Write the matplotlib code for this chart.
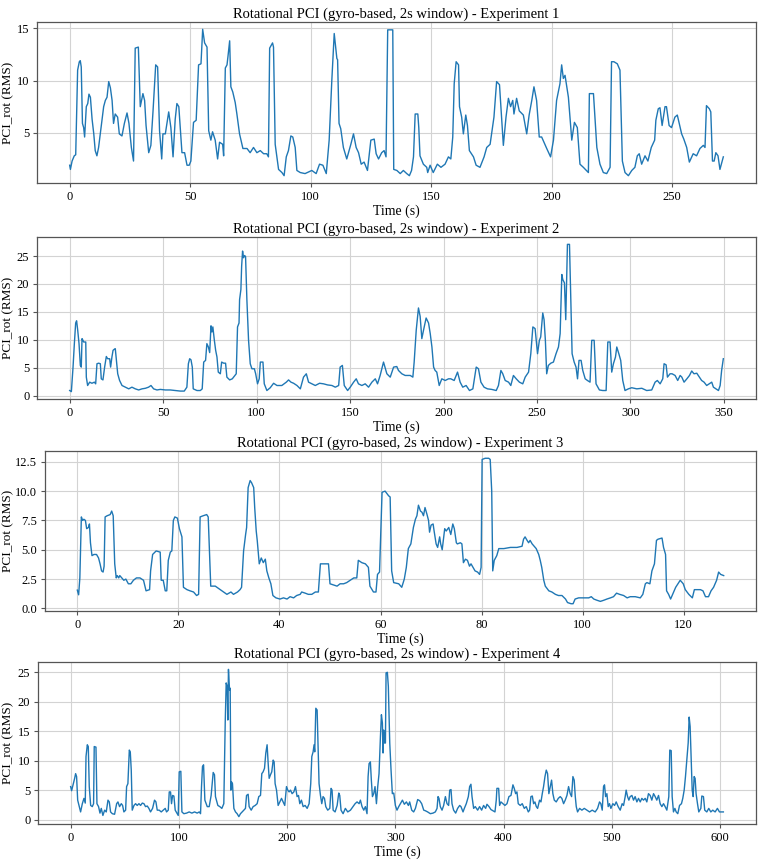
import matplotlib
matplotlib.use("Agg")
import matplotlib.pyplot as plt
from matplotlib.ticker import MultipleLocator, FormatStrFormatter

plt.rcParams['font.family'] = ['Liberation Serif', 'DejaVu Serif']

# ---------------- Experiment 1 ----------------
t1 = [0.0, 0.3, 1.0, 1.9, 2.5, 3.3, 4.0, 4.4, 4.8, 5.3, 5.8, 6.2, 6.9, 7.5, 8.0, 8.6, 9.3, 10.0,
      10.6, 11.3, 12.0, 12.7, 13.4, 14.1, 14.8, 15.5, 16.2, 16.9, 17.6, 18.2, 18.9, 19.9, 20.6,
      21.7, 22.7, 23.8, 24.6, 25.6, 26.5, 27.2, 28.5, 29.3, 30.4, 31.1, 31.7, 32.8, 33.7, 34.6,
      35.7, 36.5, 37.3, 38.2, 38.7, 39.7, 41.1, 42.0, 42.9, 43.8, 44.5, 45.3, 46.6, 47.7, 48.7,
      49.6, 50.3, 51.4, 52.5, 53.5, 54.5, 55.2, 56.0, 57.0, 57.7, 58.6, 59.3, 60.4, 61.4, 62.2,
      63.5, 63.9, 64.6, 65.3, 65.7, 66.4, 66.9, 67.7, 68.7, 69.4, 70.5, 71.9, 73.6, 74.9, 76.3,
      77.7, 79.1, 80.5, 81.8, 82.5, 83.0, 84.2, 84.6, 85.3, 86.0, 86.7, 88.1, 89.0, 89.9, 90.8,
      91.8, 92.6, 93.6, 94.3, 95.7, 97.7, 100.5, 102.3, 103.7, 105.1, 106.5, 107.7, 108.8, 109.8,
      110.9, 111.2, 111.8, 112.5, 113.6, 115.0, 116.7, 117.8, 118.9, 119.9, 121.0, 122.2, 123.6,
      125.0, 126.4, 127.2, 128.2, 129.5, 130.5, 131.3, 132.0, 134.1, 134.5, 135.8, 137.2, 138.5,
      139.9, 141.0, 141.9, 142.7, 143.4, 144.5, 144.9, 145.4, 146.8, 148.2, 148.6, 149.6, 150.9,
      152.6, 154.1, 155.8, 157.2, 158.2, 159.0, 159.6, 160.4, 161.4, 161.8, 162.7, 163.4, 164.4,
      165.1, 165.9, 167.6, 168.7, 170.3, 172.0, 173.1, 174.5, 176.1, 177.2, 178.4, 180.0, 181.1,
      182.1, 183.0, 183.9, 184.4, 185.5, 186.6, 188.3, 189.7, 190.7, 191.8, 192.7, 193.8, 194.9,
      195.9, 198.0, 199.6, 200.8, 202.1, 203.5, 204.2, 204.9, 205.6, 207.0, 208.4, 209.5, 210.7,
      211.8, 213.2, 215.3, 215.7, 217.4, 218.8, 220.1, 221.5, 222.9, 224.3, 224.9, 225.9, 227.3,
      228.4, 229.4, 230.5, 231.9, 233.3, 234.6, 235.6, 236.4, 237.4, 238.8, 240.0, 241.4, 242.8,
      243.3, 244.3, 245.0, 245.9, 247.1, 247.7, 248.8, 249.8, 251.2, 252.2, 254.0, 254.9, 256.1,
      257.2, 258.8, 260.2, 261.6, 263.0, 263.7, 264.3, 265.5, 266.1, 266.8, 267.5, 268.2, 269.1,
      269.9, 271.3]
v1 = [1.9, 1.5, 2.3, 2.8, 2.9, 11.0, 11.8, 11.9, 11.3, 5.9, 5.5, 4.6, 7.5, 7.8, 8.7, 8.4, 6.3, 4.9,
      3.3, 2.8, 3.6, 4.9, 6.2, 7.5, 8.1, 8.4, 9.9, 9.3, 8.1, 5.9, 6.8, 6.5, 4.9,
      4.7, 5.9, 6.9, 5.9, 3.6, 2.3, 13.1, 13.2, 7.5, 8.75, 8.1, 5.7, 3.1, 3.8, 7.1,
      11.5, 11.3, 5.2, 2.5, 4.9, 4.9, 7.0, 5.5, 2.7, 6.3, 7.8, 7.5, 3.1, 3.1, 1.9,
      1.9, 2.3, 6.0, 6.2, 11.5, 11.6, 14.9, 13.6, 13.2, 5.2, 4.3, 5.1, 4.3, 2.5, 4.1,
      3.9, 2.8, 11.2, 11.5, 12.3, 13.8, 9.4, 8.9, 7.9, 6.8, 4.9, 3.5, 3.5, 3.1, 3.6,
      3.1, 3.3, 3.0, 3.0, 2.7, 13.1, 13.6, 13.2, 3.9, 2.7, 1.5, 1.2, 0.9, 2.7, 3.3,
      4.7, 4.6, 3.6, 1.4, 1.2, 1.1, 1.4, 1.1, 2.0, 1.9, 1.1, 4.3, 10.0, 14.5,
      12.1, 12.0, 5.9, 5.4, 3.6, 2.5, 3.9, 4.9, 3.6, 3.1, 2.0, 2.2, 1.4,
      4.3, 4.4, 3.0, 2.5, 3.1, 3.3, 2.7, 14.85, 14.85, 1.5, 1.4, 1.1, 1.4,
      1.1, 0.9, 1.4, 2.7, 6.8, 6.8, 5.5, 2.8, 2.0, 1.7, 1.2, 1.9, 1.2,
      2.0, 1.7, 2.0, 2.7, 2.5, 4.6, 9.7, 11.8, 11.5, 7.5, 6.5, 4.9, 6.7,
      5.7, 3.3, 2.7, 1.9, 1.7, 2.7, 3.6, 3.9, 6.5, 9.9, 9.6, 3.8, 6.5,
      8.3, 7.5, 8.1, 6.8, 8.3, 7.1, 6.7, 4.9, 6.7, 8.1, 9.4, 8.1, 4.6,
      4.6, 3.5, 2.7, 4.3, 8.1, 9.7, 11.5, 10.2, 10.5, 8.4, 4.3, 6.0, 5.5,
      2.0, 1.7, 1.2, 8.75, 8.75, 3.6, 2.0, 1.2, 1.1, 1.7, 11.8, 11.8, 11.6,
      11.0, 2.3, 1.2, 0.9, 1.4, 1.7, 2.8, 3.0, 2.0, 2.8, 2.3, 3.6, 4.3,
      6.2, 7.3, 7.4, 5.7, 7.5, 7.5, 5.7, 5.5, 6.5, 6.7, 4.9, 4.4, 3.6,
      2.2, 3.0, 2.8, 3.5, 3.8, 3.6, 7.6, 7.3, 7.0, 2.3, 2.3, 3.1, 2.8,
      1.5, 2.7]

# ---------------- Experiment 2 ----------------
t2 = [0.0, 0.9, 1.8, 2.5, 3.2, 3.7, 4.3, 5.0, 5.7, 6.2, 6.6, 7.1, 7.5, 8.6, 8.9, 9.6, 10.7, 11.9,
      13.2, 13.9, 14.6, 15.5, 16.4, 16.9, 17.8, 18.7, 19.6, 20.3, 21.4, 21.9, 22.6, 23.2, 23.9,
      24.4, 25.0, 25.7, 26.7, 28.0, 29.8, 31.6, 33.3, 35.1, 36.9, 38.7, 40.5, 42.2, 43.5, 44.9,
      46.7, 48.5, 51.2, 53.8, 56.5, 59.2, 61.3, 62.7, 63.5, 64.2, 64.9, 65.6, 66.1, 68.1, 69.9,
      70.9, 71.7, 72.7, 73.4, 74.2, 74.9, 75.6, 76.1, 76.6, 77.4, 78.1, 78.8, 79.5, 80.6, 81.3,
      82.4, 83.4, 84.1, 85.6, 87.0, 88.4, 89.1, 89.8, 90.6, 90.9, 91.6, 92.0, 92.5, 93.0, 93.6,
      94.1, 94.8, 95.7, 96.6, 97.5, 98.8, 99.5, 100.5, 101.4, 102.0, 103.4, 104.1, 105.5, 107.3,
      109.1, 110.9, 113.5, 115.9, 117.1, 118.4, 119.8, 121.6, 123.4, 125.1, 126.6, 127.8, 129.6,
      131.4, 133.7, 135.8, 138.0, 140.3, 142.1, 143.9, 144.7, 145.9, 146.9, 148.7, 150.1, 151.9,
      153.3, 154.5, 156.3, 158.1, 159.9, 161.7, 163.5, 164.7, 166.1, 167.9, 169.7, 171.5, 173.3,
      175.0, 175.9, 177.7, 179.5, 182.2, 183.6, 184.3, 185.4, 186.6, 187.5, 188.4, 189.3, 190.7,
      192.0, 192.9, 193.8, 194.7, 195.5, 196.4, 197.7, 199.1, 200.9, 202.7, 203.9, 205.7, 207.5,
      208.9, 210.3, 212.1, 213.9, 215.7, 217.5, 218.7, 220.0, 221.7, 223.5, 225.8, 228.2, 229.4,
      230.7, 231.7, 233.0, 234.8, 236.0, 237.4, 238.9, 240.6, 242.4, 243.7, 245.5, 246.7, 247.8,
      249.0, 250.3, 251.3, 252.0, 253.1, 253.8, 254.5, 255.2, 256.1, 257.4, 258.8, 260.2, 261.5,
      262.4, 263.3, 263.8, 264.7, 265.4, 266.3, 267.4, 268.1, 268.8, 269.9, 270.9, 271.7, 272.5,
      273.6, 274.5, 275.8, 277.0, 278.4, 279.3, 280.6, 281.6, 283.4, 285.2, 287.0, 287.9, 289.1,
      290.0, 290.9, 292.0, 292.7, 293.8, 294.8, 295.9, 297.1, 298.9, 300.7, 303.4, 306.1, 308.7,
      311.4, 313.2, 314.4, 315.9, 317.3, 318.0, 319.1, 319.8, 321.2, 322.3, 323.9, 325.3, 326.6,
      327.5, 328.7, 330.2, 331.6, 332.8, 334.0, 335.5, 336.9, 338.1, 339.4, 340.8, 342.6, 343.5,
      344.4, 345.8, 347.1, 348.0, 348.8, 349.7]
v2 = [0.9, 0.7, 5.1, 9.3, 13.0, 13.4, 11.7, 9.3, 5.4, 5.1, 10.2, 9.9, 9.6, 9.6, 3.3, 1.8, 2.4, 2.2,
      2.4, 2.1, 5.7, 5.8, 5.7, 3.0, 2.8, 5.1, 7.0, 6.6, 6.6, 5.1, 6.9, 8.1, 8.3,
      8.4, 6.3, 3.9, 2.7, 1.8, 1.5, 1.2, 1.5, 1.2, 1.0, 1.2, 1.3, 1.5, 1.8, 1.2,
      1.0, 1.1, 1.0, 1.0, 0.9, 0.8, 0.8, 1.5, 5.7, 6.6, 6.4, 5.1, 1.2, 0.9, 0.9,
      1.2, 6.0, 6.3, 9.3, 8.7, 7.7, 12.5, 11.4, 12.3, 9.9, 8.1, 6.9, 4.2, 3.9, 6.0,
      5.8, 5.8, 3.3, 2.8, 3.0, 3.6, 3.9, 12.3, 13.0, 17.2, 19.0, 23.2, 25.9, 24.7, 25.1,
      24.9, 17.2, 9.9, 5.7, 4.8, 4.8, 3.9, 2.1, 3.0, 6.0, 6.0, 2.1, 0.9, 1.4,
      2.2, 1.8, 1.8, 2.4, 2.8, 2.4, 2.2, 1.8, 1.2, 3.3, 3.9, 2.4, 2.1,
      1.8, 2.2, 2.1, 1.9, 1.8, 1.5, 1.8, 5.1, 5.4, 1.8, 0.9, 1.5, 2.4,
      3.0, 2.1, 1.8, 2.1, 1.5, 2.4, 3.0, 2.1, 3.6, 6.0, 3.9, 3.3, 5.1,
      5.2, 4.5, 3.9, 3.6, 3.6, 3.3, 6.0, 11.7, 15.7, 14.2, 10.2, 11.7, 13.9,
      13.0, 11.1, 8.7, 5.1, 4.5, 4.2, 1.8, 3.0, 2.7, 3.0, 3.0, 2.7, 4.2,
      2.4, 1.5, 1.8, 0.9, 1.2, 5.1, 4.8, 2.4, 1.5, 1.2, 1.1, 0.9, 1.8,
      4.5, 3.9, 2.7, 2.4, 1.8, 3.6, 3.0, 2.4, 2.1, 3.3, 4.2, 7.5, 12.3,
      12.0, 7.5, 9.9, 10.5, 14.8, 13.6, 9.9, 3.9, 5.4, 5.8, 6.0, 7.5, 8.7,
      11.1, 21.7, 20.8, 20.2, 13.6, 27.1, 27.1, 17.2, 7.5, 6.0, 5.1, 3.0, 6.3,
      6.3, 4.5, 3.0, 2.7, 2.4, 9.9, 9.9, 2.1, 1.0, 0.9, 0.9, 9.6, 9.6,
      4.2, 5.7, 6.9, 8.7, 7.5, 6.3, 2.7, 0.9, 1.2, 1.4, 1.2, 1.3, 0.9,
      1.0, 2.4, 2.7, 2.1, 3.0, 5.7, 5.5, 3.3, 3.9, 3.9, 3.6, 2.7, 3.6,
      3.3, 2.4, 3.0, 3.6, 4.4, 3.9, 4.0, 3.3, 2.7, 2.4, 1.8, 2.2, 2.4,
      1.5, 1.2, 0.9, 1.8, 4.5, 6.6]

# ---------------- Experiment 3 ----------------
t3 = [0.0, 0.26, 0.5, 0.8, 1.05, 1.3, 1.6, 1.85, 2.2, 2.4, 2.6, 2.9, 3.3, 3.8, 4.2, 4.5, 4.8, 5.1,
      5.3, 5.5, 5.9, 6.5, 6.8, 7.1, 7.4, 7.7, 7.9, 8.2, 8.4, 8.8, 9.2, 9.6, 10.1, 10.6, 11.1,
      11.7, 12.4, 13.1, 13.6, 14.3, 14.5, 14.9, 15.6, 16.4, 16.6, 17.0, 17.4, 17.7, 18.0, 18.4,
      18.7, 19.0, 19.3, 19.8, 20.2, 20.7, 21.0, 21.7, 22.3, 23.0, 23.6, 24.0, 24.3, 24.9, 25.6,
      25.9, 26.4, 27.3, 28.3, 29.0, 29.6, 30.4, 30.9, 31.7, 32.2, 32.5, 32.9, 33.3, 33.5, 33.8,
      34.2, 34.5, 34.9, 35.1, 35.4, 35.6, 36.0, 36.4, 36.8, 37.2, 37.5, 37.9, 38.3, 38.7, 39.3,
      40.1, 40.8, 41.5, 42.1, 42.8, 43.4, 44.1, 44.4, 45.1, 45.7, 46.4, 47.1, 47.7, 48.1, 48.7,
      49.7, 50.0, 50.7, 51.4, 52.0, 52.7, 53.3, 54.0, 54.7, 55.3, 55.6, 56.3, 57.0, 57.6, 57.9,
      58.6, 59.1, 59.4, 59.8, 60.3, 60.9, 61.6, 61.9, 62.2, 62.6, 63.6, 64.2, 64.7, 65.1, 65.5,
      66.0, 66.5, 66.9, 67.2, 67.5, 67.9, 68.2, 68.5, 68.8, 69.2, 69.5, 69.7, 70.0, 70.4, 70.6,
      71.0, 71.3, 71.7, 71.9, 72.2, 72.5, 72.7, 73.0, 73.5, 73.9, 74.3, 74.6, 75.0, 75.2, 75.8,
      76.1, 76.4, 76.8, 77.2, 77.6, 77.9, 78.3, 78.7, 79.2, 79.6, 79.9, 80.1, 80.7, 81.4, 81.7,
      82.0, 82.2, 82.5, 83.0, 83.4, 84.4, 85.7, 87.0, 88.0, 88.3, 88.6, 89.0, 89.3, 89.6, 90.0,
      90.4, 90.8, 91.3, 91.6, 91.9, 92.3, 92.6, 93.3, 93.9, 94.6, 95.2, 95.9, 96.6, 97.0, 97.7,
      98.1, 98.5, 99.2, 99.9, 100.5, 101.2, 101.7, 102.2, 102.8, 103.5, 104.2, 104.8, 105.5,
      106.1, 106.7, 107.3, 108.1, 108.8, 109.4, 110.4, 111.4, 111.9, 112.4, 112.7, 113.3, 113.7,
      114.2, 114.6, 114.9, 115.7, 116.0, 116.4, 116.6, 117.0, 117.4, 117.7, 118.4, 119.0, 119.3,
      119.9, 120.3, 121.0, 121.7, 122.1, 122.6, 123.3, 123.8, 124.3, 124.9, 125.4, 125.9, 126.5,
      126.9, 127.3, 127.9]
v3 = [1.56, 1.16, 2.6, 7.8, 7.5, 7.6, 7.5, 6.8, 6.9, 7.2, 5.6, 4.5, 4.6, 4.6, 4.3, 3.8, 3.2, 3.1,
      3.6, 7.8, 7.9, 8.0, 8.3, 7.9, 3.8, 2.6, 2.8, 2.6, 2.8, 2.6, 2.4, 2.5, 2.1, 2.1, 2.4,
      2.6, 2.6, 2.4, 1.5, 1.6, 3.2, 4.6, 4.9, 4.8, 2.4, 2.4, 1.5, 1.5, 4.1, 4.8,
      4.9, 7.5, 7.8, 7.7, 6.8, 6.1, 1.8, 1.6, 1.5, 1.4, 1.1, 1.2, 7.8, 7.9, 8.0,
      7.8, 1.9, 1.9, 1.6, 1.4, 1.2, 1.4, 1.2, 1.4, 1.6, 1.8, 4.9, 6.3, 6.9, 10.3,
      10.9, 10.7, 10.3, 8.6, 6.6, 5.8, 3.8, 4.3, 3.9, 4.2, 3.2, 2.6, 2.1, 1.1, 0.9,
      0.8, 0.9, 0.8, 1.0, 0.9, 1.1, 1.2, 1.4, 1.3, 1.2, 1.2, 1.4, 1.4, 3.8, 3.8,
      3.8, 2.1, 2.0, 1.9, 2.1, 2.1, 2.2, 2.4, 2.6, 2.6, 4.1, 3.9, 3.8, 3.5, 1.9,
      1.4, 1.4, 2.9, 3.1, 9.9, 10.0, 9.6, 9.5, 3.2, 2.2, 2.1, 1.8, 2.5, 3.5, 5.1,
      5.5, 6.9, 7.6, 7.9, 8.8, 8.3, 8.2, 7.9, 8.6, 8.0, 7.5, 6.5, 7.1, 7.2, 6.6,
      5.5, 5.2, 6.1, 5.5, 5.0, 6.1, 6.8, 6.6, 6.9, 6.3, 7.2, 6.8, 5.6, 5.5, 5.6,
      5.5, 3.9, 4.2, 4.1, 3.6, 3.8, 3.5, 3.2, 3.1, 2.9, 3.5, 12.7, 12.8, 12.8, 12.7,
      10.0, 3.2, 4.1, 4.5, 5.1, 5.1, 5.2, 5.2, 5.3, 5.9, 6.1, 5.8, 5.6, 5.8, 5.5,
      5.3, 5.1, 4.6, 4.1, 3.5, 2.4, 1.9, 1.5, 1.4, 1.2, 1.1, 1.1, 0.8, 0.5, 0.4,
      0.4, 0.8, 0.9, 0.9, 0.9, 0.9, 1.0, 0.8, 0.7, 0.6, 0.7, 0.8, 0.9,
      1.0, 1.3, 1.2, 1.1, 0.9, 1.0, 1.0, 0.9, 1.2, 2.1, 2.2, 2.1, 3.2,
      3.8, 5.8, 5.9, 6.0, 5.2, 4.6, 1.5, 1.2, 0.8, 1.1, 1.8, 2.2, 2.4,
      2.1, 1.6, 1.2, 0.9, 1.6, 1.6, 1.6, 1.5, 1.0, 1.0, 1.5, 1.8, 2.4,
      3.1, 2.9, 2.8]

# ---------------- Experiment 4 ----------------
t4 = [0.0, 0.9, 2.5, 3.7, 4.6, 5.5, 6.5, 8.0, 9.2, 10.8, 12.3, 13.5, 14.2, 15.4, 16.3, 17.2, 18.5,
      20.0, 21.2, 21.8, 23.4, 24.3, 25.8, 27.1, 28.3, 29.8, 31.4, 32.9, 34.5, 35.7, 36.9, 38.5,
      40.6, 42.5, 43.7, 45.2, 46.8, 48.0, 49.2, 50.8, 51.7, 52.9, 54.2, 55.1, 56.0, 56.9, 58.5,
      60.0, 61.5, 63.1, 64.6, 66.2, 67.7, 69.2, 70.8, 72.3, 73.8, 75.7, 77.5, 78.8, 80.0, 81.8,
      83.7, 85.5, 87.4, 88.6, 90.2, 91.1, 92.3, 93.2, 94.2, 95.4, 96.6, 98.5, 99.4, 100.3, 101.8,
      102.8, 104.6, 107.1, 109.5, 112.0, 114.5, 116.9, 118.8, 120.0, 120.9, 121.8, 122.8, 124.0,
      126.2, 128.0, 129.8, 131.7, 132.9, 133.8, 136.0, 137.8, 139.7, 141.5, 142.8, 143.7, 144.6,
      145.2, 145.8, 146.8, 147.4, 148.0, 148.6, 149.5, 150.8, 152.3, 153.8, 155.4, 156.9, 158.5,
      160.0, 161.5, 162.5, 164.0, 164.9, 166.8, 168.6, 170.5, 172.3, 173.8, 175.4, 176.6, 177.8,
      179.1, 180.3, 181.5, 182.5, 183.4, 184.6, 185.8, 187.1, 188.0, 188.9, 190.2, 191.7, 193.2,
      194.8, 196.3, 197.8, 199.4, 200.6, 201.8, 203.1, 204.6, 206.2, 207.7, 209.2, 210.5, 211.7,
      213.2, 214.8, 216.6, 218.5, 220.3, 221.8, 222.8, 224.0, 224.9, 225.5, 226.5, 227.7, 228.6,
      229.5, 230.8, 232.0, 233.2, 234.5, 235.7, 237.5, 239.4, 240.6, 241.5, 242.5, 244.3, 246.2,
      247.7, 248.6, 249.8, 251.7, 253.8, 256.0, 258.5, 260.9, 262.8, 264.6, 266.5, 267.7, 269.2,
      270.8, 272.3, 273.8, 274.8, 275.7, 276.9, 277.8, 278.8, 280.0, 281.2, 282.5, 283.7, 284.9,
      286.2, 287.1, 288.0, 288.6, 289.2, 289.8, 290.8, 291.4, 292.6, 293.5, 294.8, 296.0, 297.2,
      298.5, 300.0, 301.5, 303.1, 304.6, 306.5, 308.3, 310.2, 312.0, 313.2, 315.1, 316.9, 318.5,
      320.6, 322.5, 324.3, 326.2, 327.7, 329.8, 332.3, 334.8, 336.9, 338.5, 339.4, 340.3, 341.5,
      343.1, 344.6, 346.2, 347.7, 349.2, 350.2, 351.4, 352.3, 353.8, 355.7, 357.5, 359.4, 360.6,
      362.5, 363.7, 365.5, 367.4, 368.6, 369.8, 370.8, 372.3, 373.8, 376.0, 377.8, 379.7, 381.5,
      383.4, 384.6, 386.5, 388.3, 390.2, 392.0, 393.2, 393.8, 395.4, 396.3, 397.5, 399.4, 401.2,
      403.1, 404.9, 406.8, 408.6, 409.8, 411.1, 412.3, 413.5, 415.4, 417.2, 419.1, 420.9, 422.8,
      424.0, 425.2, 426.5, 427.7, 428.9, 430.2, 431.4, 433.2, 434.5, 435.7, 436.9, 438.2, 439.4,
      440.6, 441.8, 443.1, 444.3, 445.5, 446.8, 448.6, 450.5, 452.3, 453.8, 455.4, 456.9, 458.5,
      460.0, 461.5, 462.8, 464.0, 465.2, 466.2, 467.1, 468.3, 470.2, 472.3, 474.5, 476.9, 479.4,
      481.8, 484.6, 486.8, 488.6, 489.8, 491.1, 492.3, 493.2, 494.2, 495.4, 496.6, 497.8, 499.1,
      500.9, 502.5, 504.0, 505.8, 507.7, 509.5, 510.8, 512.3, 513.2, 514.5, 515.7, 516.9, 518.5,
      520.0, 521.5, 523.1, 524.6, 526.2, 527.7, 529.2, 530.8, 532.3, 533.8, 535.4, 536.9, 538.5,
      540.0, 541.5, 543.1, 544.6, 546.2, 547.7, 549.2, 550.8, 552.6, 553.5, 554.8, 555.7, 556.9,
      558.2, 559.4, 560.9, 562.5, 564.3, 565.5, 566.8, 568.0, 569.2, 570.5, 571.4, 572.3, 573.2,
      574.2, 575.1, 576.0, 576.9, 577.8, 579.1, 580.3, 582.2, 583.1, 584.6, 585.8, 587.7, 589.5,
      591.4, 593.2, 595.4, 597.5, 599.4, 601.5, 603.0]
v4 = [5.6, 4.9, 6.1, 7.0, 7.8, 7.3, 3.3, 2.2, 1.3, 2.7, 3.6, 2.8, 10.7, 12.7, 12.4, 5.6, 2.4,
      2.2, 2.7, 12.4, 12.3, 2.7, 2.2, 1.1, 1.9, 0.7, 1.6, 1.3, 3.3, 3.0, 1.3, 1.0,
      0.9, 2.7, 3.0, 2.2, 2.7, 2.4, 1.3, 1.6, 5.6, 6.1, 11.8, 11.5, 8.4, 1.6, 2.4,
      2.7, 2.4, 2.7, 2.4, 2.8, 2.7, 2.2, 2.3, 1.9, 1.3, 1.9, 3.3, 3.0, 1.6, 1.6,
      1.3, 1.6, 1.9, 1.3, 1.6, 4.7, 4.7, 2.7, 4.1, 4.0, 1.6, 1.0, 0.7, 8.1, 8.2,
      1.3, 1.0, 1.1, 1.3, 1.1, 1.3, 1.1, 1.3, 1.0, 5.6, 9.0, 9.3, 3.3,
      2.2, 2.2, 4.1, 8.0, 7.6, 3.9, 2.4, 2.2, 1.9, 2.7, 16.4, 23.2, 22.6,
      16.9, 25.5, 22.0, 22.3, 5.0, 6.4, 6.1, 1.9, 1.3, 1.0, 0.5, 1.0, 1.3,
      1.6, 1.9, 4.1, 4.3, 2.2, 1.6, 2.2, 2.4, 2.7, 3.9, 4.1, 7.8, 8.1,
      8.7, 11.3, 12.7, 9.5, 7.0, 7.6, 8.1, 10.1, 9.8, 6.1, 5.0, 2.4, 3.0,
      3.6, 3.0, 2.4, 5.6, 5.0, 4.7, 5.0, 4.4, 4.7, 5.6, 3.9, 4.1, 2.7,
      3.3, 2.2, 2.4, 1.9, 2.7, 6.1, 10.7, 11.5, 12.7, 11.5, 18.9, 18.6, 12.4,
      6.1, 4.1, 2.7, 3.9, 3.6, 2.2, 1.6, 1.9, 5.3, 5.0, 1.6, 1.3, 2.4,
      4.5, 4.1, 1.6, 1.0, 1.9, 1.3, 1.6, 2.2, 2.7, 3.0, 2.7, 3.3, 2.2,
      1.6, 2.2, 1.0, 7.3, 9.5, 9.8, 6.7, 3.9, 4.4, 5.6, 2.7, 5.6, 7.8,
      14.1, 17.8, 16.4, 11.3, 15.2, 13.0, 13.0, 24.9, 25.0, 22.6, 13.0, 8.4, 4.4,
      4.5, 2.4, 1.6, 2.2, 2.7, 3.3, 2.6, 3.0, 2.4, 3.0, 1.6, 1.3, 1.9,
      3.4, 3.2, 2.7, 1.6, 1.5, 1.3, 1.0, 1.1, 1.3, 1.9, 3.9, 3.6, 2.2,
      1.6, 2.4, 3.9, 2.7, 2.4, 5.0, 5.1, 2.7, 1.6, 1.1, 1.9, 2.4, 2.2,
      1.3, 1.9, 2.7, 3.9, 5.6, 6.0, 3.9, 1.9, 2.2, 1.6, 2.2, 1.6, 2.4,
      1.9, 2.6, 2.2, 1.7, 1.5, 1.3, 3.3, 5.3, 5.3, 2.4, 3.0, 2.7, 2.4,
      2.7, 3.9, 4.1, 5.9, 5.3, 4.4, 4.7, 2.7, 2.4, 2.7, 1.9, 2.2, 1.3,
      1.6, 3.9, 4.0, 2.7, 3.0, 2.2, 1.9, 3.3, 3.0, 4.4, 5.6, 7.3, 8.4,
      7.8, 4.4, 5.6, 6.7, 4.4, 3.3, 3.0, 3.6, 3.9, 3.6, 2.7, 3.3, 4.1,
      5.6, 4.4, 3.9, 7.3, 6.7, 3.9, 2.2, 1.3, 1.9, 1.6, 1.9, 1.6, 1.3,
      1.6, 1.3, 1.9, 3.0, 2.7, 1.6, 5.6, 5.9, 3.9, 4.4, 2.2, 2.7, 1.9,
      2.7, 2.4, 3.0, 2.2, 1.6, 2.7, 2.4, 3.9, 5.0, 3.9, 3.3, 3.9, 4.1,
      3.3, 3.9, 3.0, 3.6, 3.0, 3.6, 3.3, 3.6, 3.0, 4.4, 4.1, 3.3, 4.4,
      3.9, 3.3, 4.1, 2.7, 2.2, 2.7, 2.2, 1.6, 3.9, 11.8, 11.7, 3.9, 1.3,
      1.9, 1.3, 1.0, 2.4, 2.7, 3.6, 5.0, 7.3, 10.1, 13.0, 17.4, 15.8, 10.7,
      5.0, 3.9, 7.3, 7.0, 4.4, 2.7, 1.3, 1.9, 4.0, 3.9, 1.6, 1.3, 1.9,
      1.3, 1.6, 1.3, 1.9, 1.3, 1.3, 1.3]

times = [t1, t2, t3, t4]
values = [v1, v2, v3, v4]
titles = ["Rotational PCI (gyro-based, 2s window) - Experiment %d" % i for i in range(1, 5)]
xsteps = [50, 50, 20, 100]
ysteps = [5, 5, 2.5, 5]
yfmts = ["%d", "%d", "%.1f", "%d"]

fig = plt.figure(figsize=(7.63, 8.6), dpi=100)
W, H = 763.0, 860.0
# (left px, right px, top px, bottom px)
boxes = [(37, 756, 22, 183), (37, 756, 237, 399), (45, 756, 451, 611), (38, 756, 662, 824)]
ylabel_x_px = 14.0

for i, (l, r, tp, b) in enumerate(boxes):
    ax = fig.add_axes([l / W, (H - b) / H, (r - l) / W, (b - tp) / H])
    ax.plot(times[i], values[i], color='#1f77b4', linewidth=1.0)
    ax.set_title(titles[i], fontsize=10.5, pad=3)
    ax.set_xlabel("Time (s)", fontsize=10, labelpad=1)
    ax.set_ylabel("PCI_rot (RMS)", fontsize=9.5)
    ax.yaxis.set_label_coords((ylabel_x_px - l) / (r - l), 0.5)
    ax.xaxis.set_major_locator(MultipleLocator(xsteps[i]))
    ax.yaxis.set_major_locator(MultipleLocator(ysteps[i]))
    ax.yaxis.set_major_formatter(FormatStrFormatter(yfmts[i]))
    ax.tick_params(labelsize=9, length=3, pad=2.5, color='#555555')
    ax.grid(True, color='#d3d3d3', linewidth=0.8)
    ax.set_axisbelow(True)
    for s in ax.spines.values():
        s.set_color('#555555')
        s.set_linewidth(0.9)

fig.savefig("out.png", dpi=100)
